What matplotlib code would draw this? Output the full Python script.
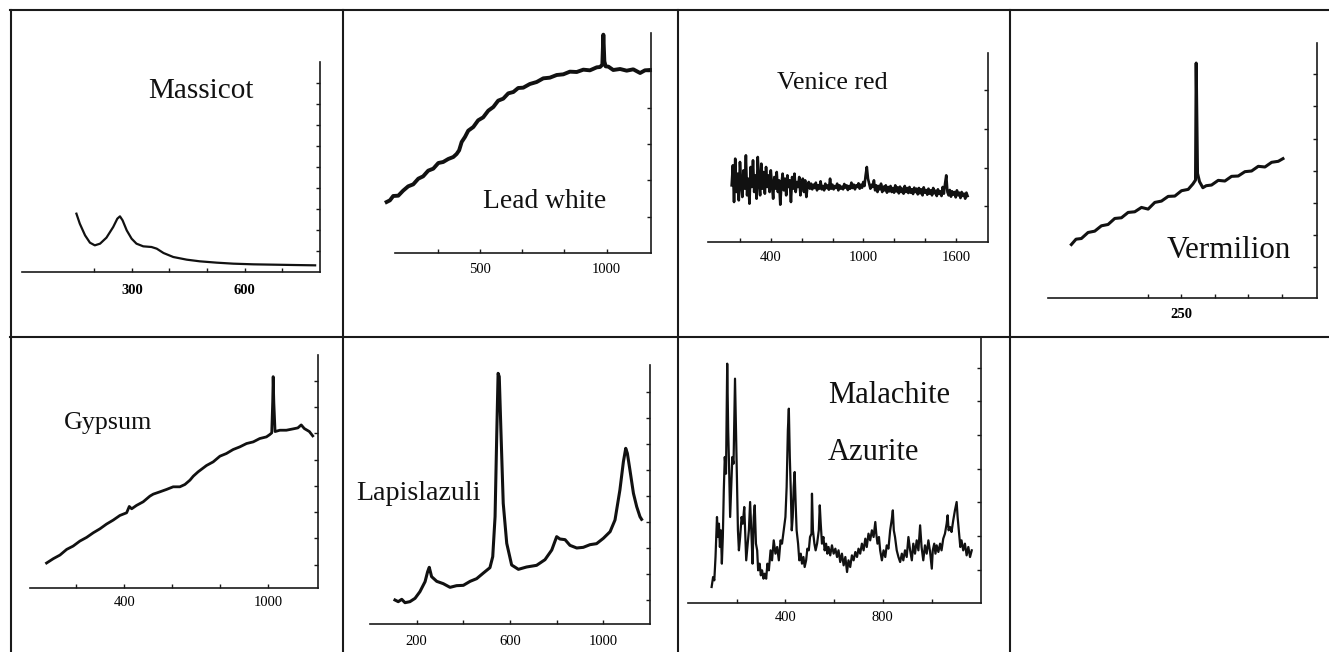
import numpy as np
import matplotlib
matplotlib.use("Agg")
import matplotlib.pyplot as plt
from matplotlib.lines import Line2D

plt.rcParams['font.family'] = ['Liberation Serif', 'DejaVu Serif']

W, H = 1329, 652

# --- spectra (x in cm-1, intensity in arbitrary counts) ---
massicot_x = [152, 161, 175, 188, 201, 215, 232, 250, 261, 268, 275, 286, 299, 312,
              330, 352, 366, 384, 410, 446, 481, 526, 570, 624, 677, 730, 788]
massicot_y = [175, 145, 110, 88, 80, 85, 103, 135, 160, 167, 155, 125, 100, 85,
              77, 75, 70, 57, 45, 37, 32, 28, 25, 23, 22, 21, 20]

leadwhite_x = [132, 145, 158, 178, 197, 217, 237, 257, 276, 296, 316, 336, 355, 375,
               395, 408, 418, 428, 441, 454, 474, 493, 513, 533, 553, 572, 592, 612,
               632, 651, 671, 697, 724, 750, 776, 803, 829, 855, 882, 908, 934, 961,
               974, 983, 987, 991, 996, 1007, 1026, 1053, 1079, 1105, 1132, 1151, 1171]
leadwhite_y = [153, 158, 171, 172, 187, 200, 206, 223, 230, 247, 253, 270, 273, 282,
               288, 297, 308, 333, 348, 367, 378, 398, 407, 427, 438, 457, 463, 479,
               483, 495, 496, 507, 513, 524, 526, 534, 536, 544, 543, 550, 548, 557,
               558, 565, 655, 575, 560, 559, 549, 552, 547, 551, 540, 548, 549]

venice_range = (148, 1673)
venice_y = [170, 230, 120, 250, 150, 205, 125, 240, 175, 135,
            215, 160, 260, 140, 190, 115, 225, 165, 245, 150,
            200, 130, 255, 180, 140, 235, 160, 210, 145, 225,
            165, 200, 150, 215, 170, 130, 195, 160, 210, 150,
            185, 112, 175, 205, 155, 190, 140, 200, 165, 185,
            120, 195, 160, 205, 150, 180, 165, 195, 140, 175,
            190, 150, 185, 135, 170,
            180, 160, 175, 158, 172, 162, 178, 155, 170, 160,
            182, 158, 168, 155, 175, 162, 170, 157, 190, 160,
            172, 158, 168, 162, 175, 155, 170, 160, 166, 158,
            174, 163, 170, 156, 168, 160, 178, 162, 172, 158,
            170, 165, 176, 160, 172, 163, 180, 168,
            200, 225, 190,
            175, 160, 172, 165, 185, 155, 170, 150, 168, 158,
            175, 150, 166, 155, 170, 148, 165, 152, 168, 150,
            162, 148, 170, 152, 164, 146, 166, 150, 160, 145,
            168, 150, 162, 147, 165, 148, 158, 144, 163, 150,
            160, 143, 162, 146, 158, 140, 164, 148, 156, 142,
            160, 145, 155, 140, 162, 146, 154, 138, 158, 144,
            152, 138, 165, 145, 175, 200, 150, 140, 156, 136,
            152, 142, 150, 134, 155, 140, 148, 132, 150, 138,
            145, 130, 148, 138]

vermilion_x = [85, 92, 100, 110, 120, 130, 140, 150, 160, 170, 180, 190, 200, 210, 220,
               230, 240, 250, 260, 267, 271, 272, 274, 277, 282, 287, 295, 305, 315, 325,
               335, 345, 355, 365, 375, 385, 395, 402]
vermilion_y = [160, 176, 178, 196, 200, 216, 220, 238, 240, 256, 258, 271, 266, 286, 290,
               304, 305, 321, 325, 341, 353, 703, 373, 348, 330, 336, 338, 352, 350, 364,
               365, 378, 380, 394, 392, 406, 409, 417]

gypsum_x = [76, 104, 132, 160, 187, 215, 243, 271, 299, 326, 354, 382, 410, 421, 431,
            451, 479, 507, 521, 549, 576, 604, 632, 653, 674, 688, 708, 743, 771, 799,
            826, 854, 882, 910, 938, 965, 993, 1007, 1015, 1019, 1021, 1024, 1029, 1049,
            1076, 1104, 1124, 1138, 1151, 1172, 1186]
gypsum_y = [75, 88, 99, 116, 126, 141, 152, 166, 178, 192, 204, 218, 226, 245, 238,
            248, 259, 276, 282, 289, 296, 304, 304, 311, 324, 336, 349, 368, 379, 396,
            404, 416, 424, 434, 439, 449, 454, 461, 466, 560, 635, 555, 470, 474,
            474, 478, 481, 490, 479, 470, 457]

lapis_x = [107, 121, 136, 150, 171, 193, 214, 236, 247, 254, 264, 286, 314, 343, 371,
           400, 429, 457, 486, 514, 526, 536, 543, 549, 554, 561, 571, 586, 607, 636,
           671, 714, 750, 779, 800, 814, 836, 857, 886, 914, 943, 971, 1000, 1029, 1050,
           1071, 1086, 1096, 1103, 1114, 1129, 1143, 1157, 1164]
lapis_y = [72, 67, 74, 64, 67, 77, 97, 127, 157, 170, 142, 128, 121, 110, 115,
           116, 128, 136, 153, 169, 202, 322, 562, 752, 742, 582, 362, 242, 177, 164,
           171, 176, 193, 222, 262, 255, 253, 236, 228, 230, 238, 241, 257, 277, 312,
           402, 487, 527, 512, 462, 392, 352, 322, 314]

malachite_x = [97, 103, 108, 113, 119, 123, 127, 131, 135, 139,
               143, 147, 151, 156, 161, 165, 169, 173, 177, 182,
               187, 193, 197, 201, 205, 209, 214, 220, 225, 231,
               235, 239, 244, 250, 255, 261, 265, 270, 274, 279,
               284, 288, 294, 299, 304, 310, 315, 321, 326, 332,
               339, 345, 352, 359, 366, 373, 380, 386, 393, 400,
               405, 410, 414, 418, 422, 426, 430, 434, 438, 442,
               446, 452, 457, 463, 468, 474, 479, 485, 490, 496,
               501, 507, 509, 513, 519, 524, 530, 537, 541, 545,
               550, 556, 561, 567, 572, 577, 584, 591, 598, 605,
               612, 618, 625, 632, 639, 646, 653, 659, 666, 673,
               680, 687, 694, 700, 707, 714, 721, 728, 734, 741,
               748, 755, 762, 769, 773, 778, 784, 789, 796, 803,
               810, 816, 823, 830, 837, 841, 845, 850, 857, 864,
               871, 878, 884, 891, 898, 905, 912, 919, 925, 932,
               939, 946, 953, 959, 966, 973, 980, 987, 994, 1001,
               1005, 1011, 1016, 1021, 1028, 1035, 1041, 1048, 1055, 1062,
               1066, 1070, 1076, 1082, 1089, 1096, 1103, 1107, 1112, 1118,
               1123, 1130, 1137, 1144, 1151, 1158, 1165]
malachite_y = [48, 78, 68, 138, 258, 198, 238, 168, 218, 118,
               198, 338, 438, 388, 718, 518, 398, 258, 338, 438,
               418, 673, 518, 368, 218, 158, 198, 258, 238, 288,
               208, 128, 168, 218, 303, 198, 118, 258, 293, 178,
               158, 98, 118, 83, 98, 73, 88, 73, 118, 98,
               158, 128, 188, 148, 168, 128, 188, 178, 218, 258,
               348, 518, 583, 438, 338, 218, 258, 348, 393, 298,
               218, 178, 128, 148, 118, 138, 108, 128, 163, 158,
               198, 208, 328, 218, 178, 158, 178, 218, 293, 238,
               178, 198, 158, 178, 148, 168, 143, 173, 148, 163,
               138, 158, 123, 148, 113, 138, 93, 128, 108, 143,
               128, 153, 138, 163, 148, 178, 158, 193, 168, 208,
               188, 218, 198, 243, 208, 178, 198, 158, 128, 158,
               138, 173, 163, 218, 253, 278, 218, 198, 158, 138,
               123, 148, 128, 158, 138, 198, 158, 128, 178, 148,
               188, 158, 233, 168, 128, 173, 148, 188, 153, 103,
               158, 178, 148, 173, 153, 178, 158, 193, 208, 238,
               263, 218, 228, 213, 248, 278, 303, 258, 218, 168,
               188, 158, 178, 143, 168, 138, 158]

fig = plt.figure(figsize=(W / 100, H / 100), dpi=100)

# table grid
for y in [10, 336.5]:
    fig.add_artist(Line2D([10 / W, 1], [1 - y / H, 1 - y / H], transform=fig.transFigure,
                          color="#1a1a1a", lw=1.5))
for x in [10.5, 343, 677.5, 1010]:
    fig.add_artist(Line2D([x / W, x / W], [1 - 10 / H, 0], transform=fig.transFigure,
                          color="#1a1a1a", lw=1.5))


def panel(box, xlim, ylim, xticks, xlabels, yticks, pad, weight="normal"):
    l, r, b, t = box
    ax = fig.add_axes([l / W, 1 - b / H, (r - l) / W, (b - t) / H])
    ax.patch.set_alpha(0)
    for s in ["top", "left"]:
        ax.spines[s].set_visible(False)
    for s in ["bottom", "right"]:
        ax.spines[s].set_linewidth(1.2)
        ax.spines[s].set_color("#1a1a1a")
    ax.set_xlim(*xlim)
    ax.set_ylim(*ylim)
    ax.yaxis.tick_right()
    ax.set_xticks(xticks)
    ax.set_xticklabels(xlabels, fontweight=weight)
    ax.set_yticks(yticks)
    ax.tick_params(axis="both", direction="in", length=3, width=1, color="#1a1a1a")
    ax.tick_params(axis="x", pad=pad, labelsize=10.5)
    ax.tick_params(axis="y", labelright=False)
    return ax


def label(text, x, y, size):
    fig.text(x / W, 1 - y / H, text, ha="left", va="baseline", fontsize=size, color="#111111")


# Massicot
ax = panel((22, 320, 272, 62), (7, 801), (0, 630), [200, 300, 400, 500, 600, 700],
           ["", "300", "", "", "600", ""], np.arange(1, 10) * 63, 9, "bold")
ax.plot(massicot_x, massicot_y, color="#111111", lw=1.6, clip_on=False)
label("Massicot", 148, 98, 21)

# Lead white
ax = panel((395, 651, 253, 33), (165, 1175), (0, 660), [333, 500, 667, 833, 1000],
           ["", "500", "", "", "1000"], np.arange(1, 6) * 109, 7)
ax.plot(leadwhite_x, leadwhite_y, color="#111111", lw=2.8, clip_on=False)
label("Lead white", 483, 208, 19.8)

# Venice red
ax = panel((708, 988, 242, 53), (-5, 1805), (0, 567), np.arange(200, 1700, 200),
           ["", "400", "", "", "1000", "", "", "1600"], [107, 223, 339, 455], 6.5)
ax.plot(np.linspace(*venice_range, len(venice_y)), venice_y, color="#111111", lw=1.9,
        clip_on=False)
label("Venice red", 777, 89, 18.8)

# Vermilion
ax = panel((1048, 1317, 298, 43), (50, 453), (0, 763), [200, 250, 300, 350, 400],
           ["", "250", "", "", ""], np.arange(93, 700, 96), 7, "bold")
ax.plot(vermilion_x, vermilion_y, color="#111111", lw=2.2, clip_on=False)
label("Vermilion", 1167, 258, 22.4)

# Gypsum
ax = panel((30, 318, 588, 355), (7, 1208), (0, 700), [200, 400, 600, 800, 1000],
           ["", "400", "", "", "1000"], np.arange(70, 640, 79), 5.5)
ax.plot(gypsum_x, gypsum_y, color="#111111", lw=2.0, clip_on=False)
label("Gypsum", 64, 429, 18.7)

# Lapislazuli
ax = panel((370, 650, 624, 365), (0, 1200), (0, 777), [200, 400, 600, 800, 1000],
           ["200", "", "600", "", "1000"], np.arange(72, 720, 78), 8)
ax.plot(lapis_x, lapis_y, color="#111111", lw=2.2, clip_on=False)
label("Lapislazuli", 356, 500, 20.2)

# Malachite / Azurite
ax = panel((688, 981, 603, 337), (0, 1203), (0, 798), [200, 400, 600, 800, 1000],
           ["", "400", "", "800", ""], np.arange(100, 720, 101), 5.5)
ax.plot(malachite_x, malachite_y, color="#111111", lw=1.6, clip_on=False)
label("Malachite", 828, 403, 22)
label("Azurite", 828, 460, 22)

fig.savefig("out.png", dpi=100)
